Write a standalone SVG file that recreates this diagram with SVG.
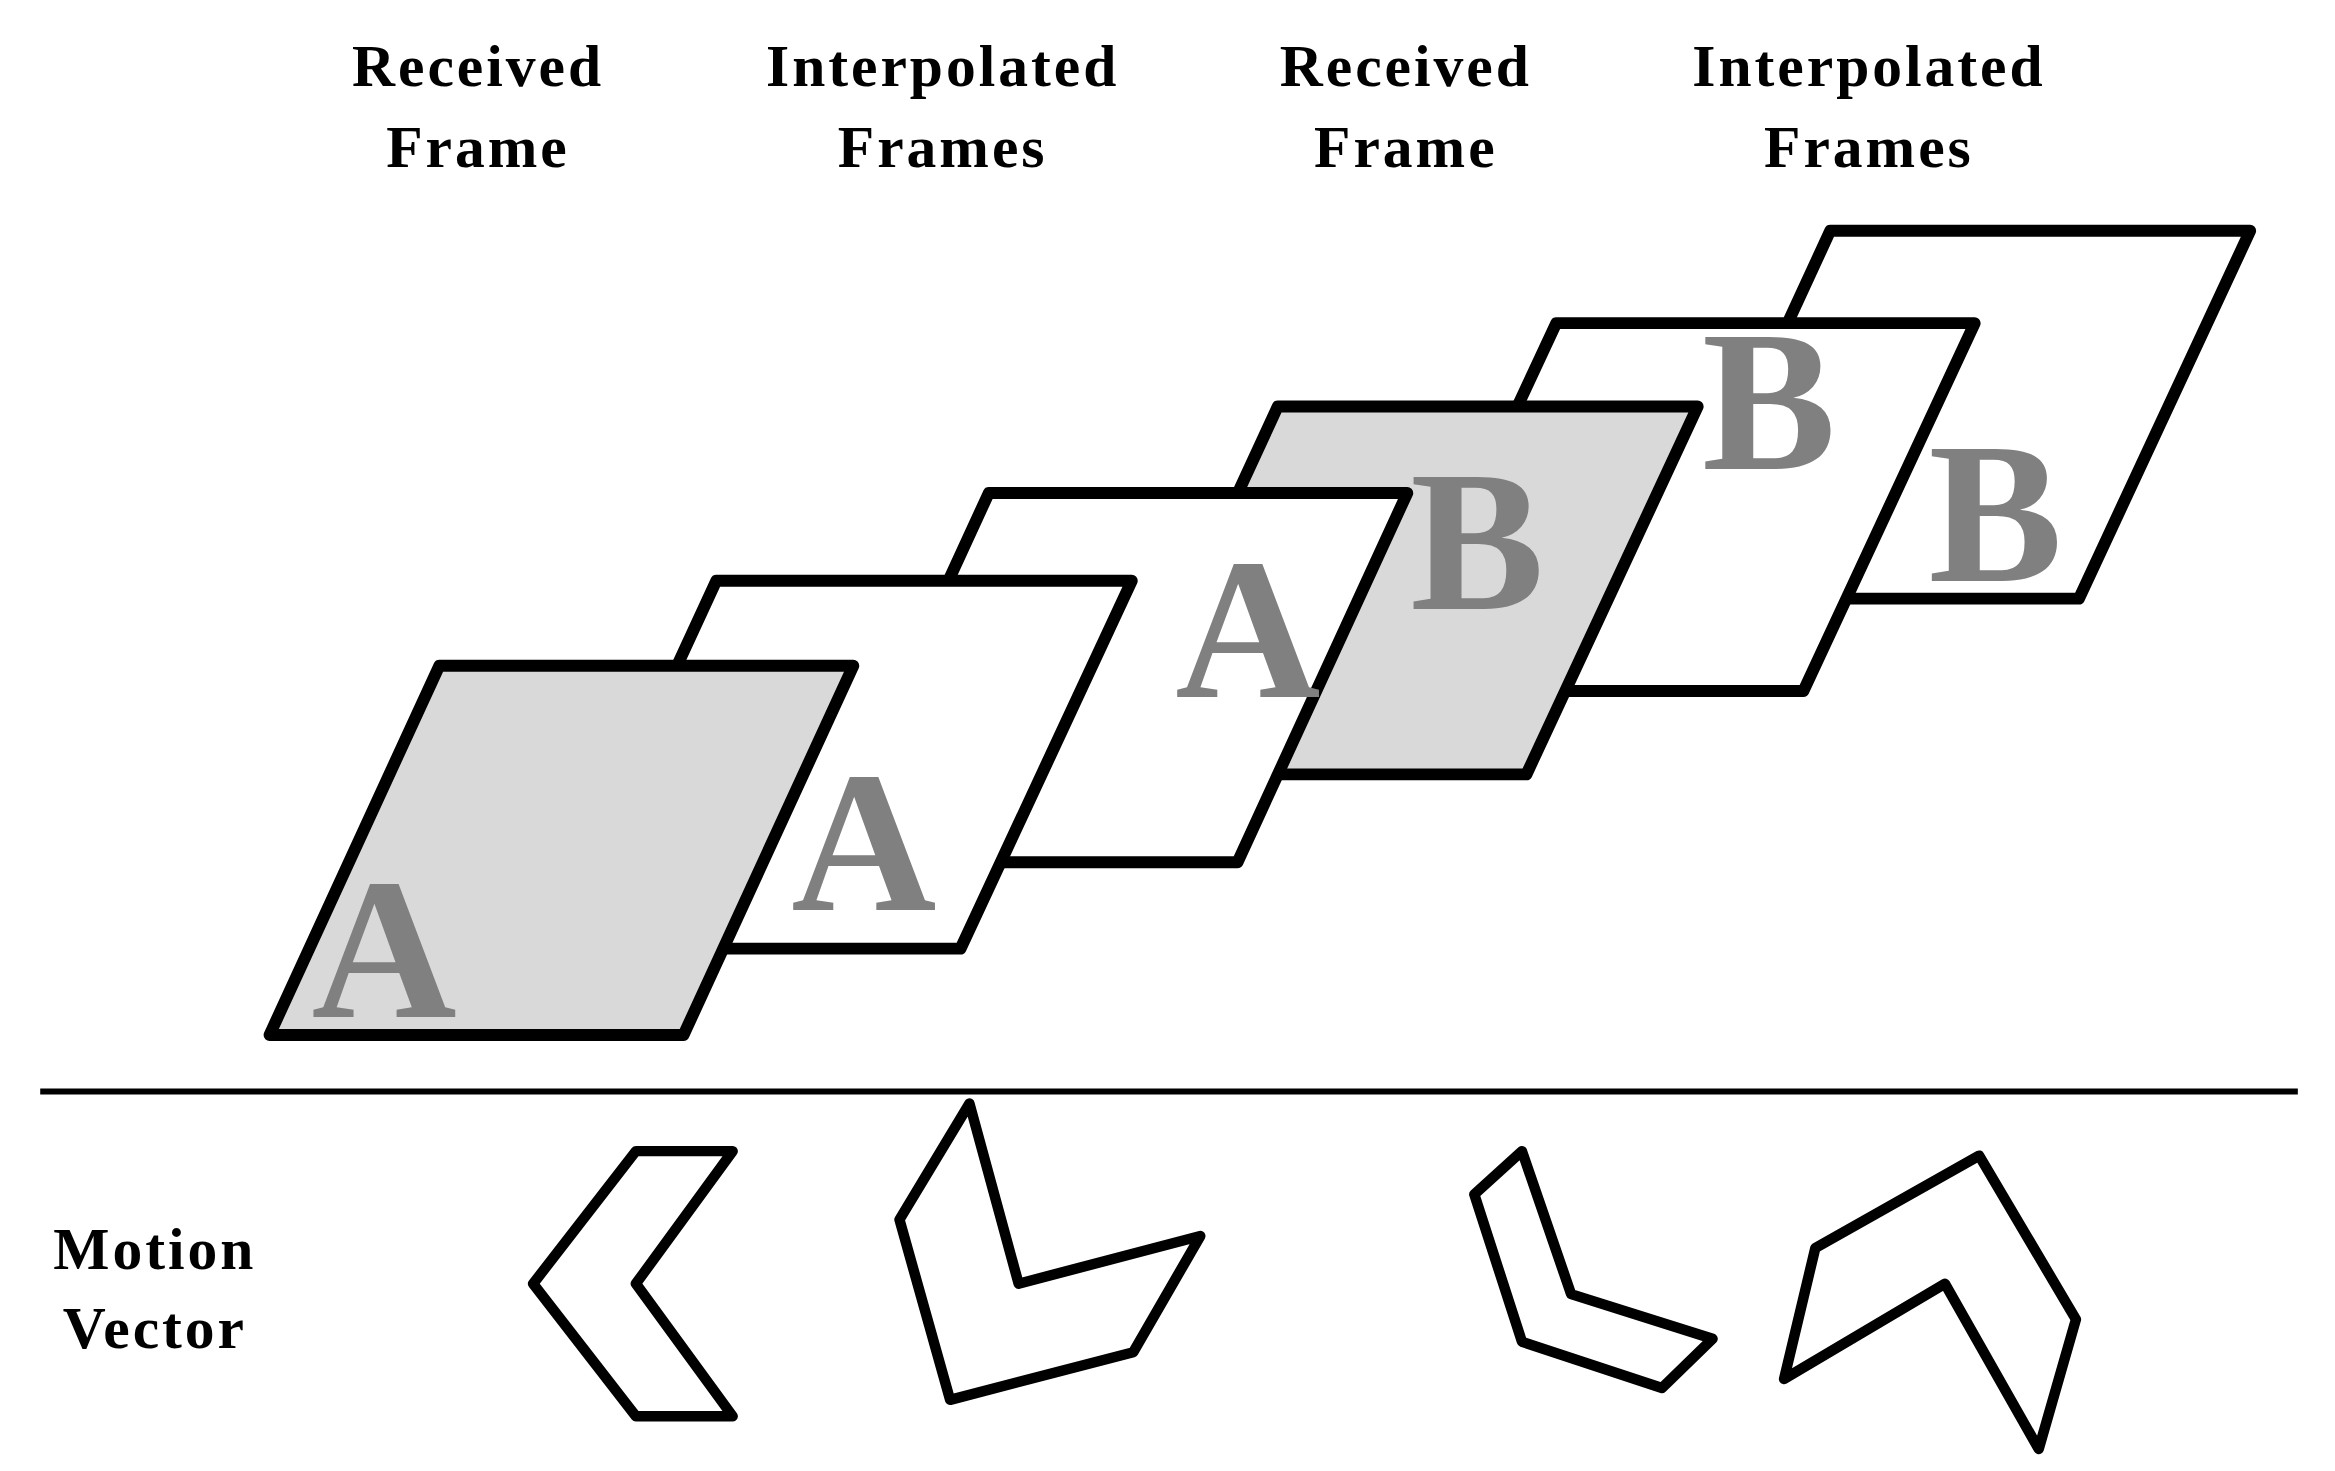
<svg xmlns="http://www.w3.org/2000/svg" width="2335" height="1471" viewBox="0 0 2335 1471">
<style>
.fr{stroke:#000;stroke-width:8;stroke-linejoin:round}
.w{fill:#fff}.g{fill:#d9d9d9}
.lt{font-family:"Liberation Serif",serif;font-weight:bold;fill:#808080;font-size:135px;text-anchor:middle}
.lb{font-family:"Liberation Serif",serif;font-weight:bold;fill:#000;font-size:40px;letter-spacing:2px;text-anchor:middle}
.mv{fill:#fff;stroke:#000;stroke-width:7;stroke-linejoin:round}
</style>
<rect width="2335" height="1471" fill="#fff"/>
<g transform="scale(1.4892)">
<g id="labels">
<text class="lb" x="321" y="58">Received</text><text class="lb" x="321" y="112">Frame</text>
<text class="lb" x="633" y="58">Interpolated</text><text class="lb" x="633" y="112">Frames</text>
<text class="lb" x="944" y="58">Received</text><text class="lb" x="944" y="112">Frame</text>
<text class="lb" x="1255" y="58">Interpolated</text><text class="lb" x="1255" y="112">Frames</text>
<text class="lb" x="104" y="852">Motion</text><text class="lb" x="104" y="905">Vector</text>
</g>
<g id="frame6"><polygon class="fr w" points="1229,155 1511,155 1396,402 1115,402"/></g>
<g id="frame5"><polygon class="fr w" points="1045,217 1326,217 1211,464 930,464"/></g>
<g id="frame4"><polygon class="fr g" points="858,273 1140,273 1025,520 744,520"/></g>
<g id="frame3"><polygon class="fr w" points="664,331 945,331 831,579 550,579"/></g>
<g id="frame2"><polygon class="fr w" points="481,390 760,390 645,637 367,637"/></g>
<g id="frame1"><polygon class="fr g" points="295,447 573,447 459,695 181,695"/></g>
<g id="letters">
<text class="lt" x="1340" y="390">B</text>
<text class="lt" x="1188" y="315">B</text>
<text class="lt" x="992" y="409">B</text>
<text class="lt" x="838" y="468">A</text>
<text class="lt" x="580" y="611">A</text>
<text class="lt" x="258" y="683">A</text>
</g>
<g id="connectors"><line x1="27" y1="733" x2="1543" y2="733" stroke="#000" stroke-width="4"/></g>
<g id="mv1"><polygon class="mv" points="427,773 492,773 427,862 492,951 427,951 358,862"/></g>
<g id="mv2"><polygon class="mv" points="651,741 684,862 806,830 761,908 638,940 604,819"/></g>
<g id="mv3"><polygon class="mv" points="1022,773 1055,869 1150,899 1116,932 1022,901 990,802"/></g>
<g id="mv4"><polygon class="mv" points="1329,776 1394,886 1369,973 1306,862 1198,926 1219,838"/></g>
</g>
</svg>
